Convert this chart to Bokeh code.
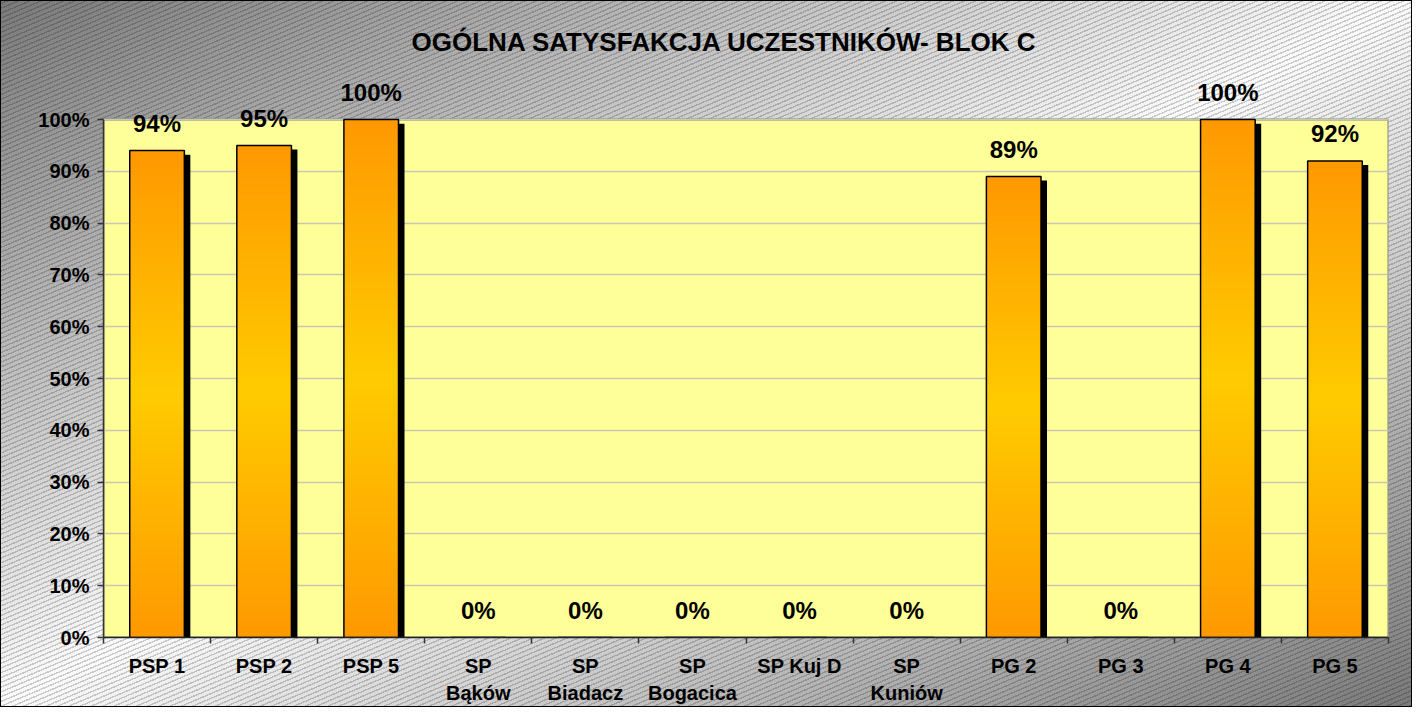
import numpy as np
from bokeh.plotting import figure
from bokeh.models import ColumnDataSource, FixedTicker, Label, LabelSet, Range1d
from bokeh.core.properties import value
from bokeh.transform import dodge
from bokeh.embed import file_html
from bokeh.resources import INLINE

# ---------------- data ----------------
categories = ["PSP 1", "PSP 2", "PSP 5", "SP Bąków", "SP Biadacz", "SP Bogacica",
              "SP Kuj D", "SP Kuniów", "PG 2", "PG 3", "PG 4", "PG 5"]
axis_labels = ["PSP 1", "PSP 2", "PSP 5", "SP\nBąków", "SP\nBiadacz", "SP\nBogacica",
               "SP Kuj D", "SP\nKuniów", "PG 2", "PG 3", "PG 4", "PG 5"]
satisfaction = [94, 95, 100, 0, 0, 0, 0, 0, 89, 0, 100, 92]   # percent
y_ticks = [0, 10, 20, 30, 40, 50, 60, 70, 80, 90, 100]
y_tick_labels = ["0%", "10%", "20%", "30%", "40%", "50%", "60%", "70%", "80%", "90%", "100%"]
title_text = "OGÓLNA SATYSFAKCJA UCZESTNIKÓW- BLOK C"

# ---------------- styling ----------------
FONT = "Liberation Sans"
W, H = 1412, 707
BORDER_L, BORDER_R, BORDER_T, BORDER_B = 103, 24, 10, 70
AREA_PX = 518            # pixel height of the 0..100 % plot area
BAR_W = 0.51
ORANGE = np.array([255, 153, 0])
YELLOW = np.array([255, 204, 0])

n = len(categories)
centers = np.arange(n) + 0.5
vals = np.array(satisfaction, dtype=float)
frame_px = H - BORDER_T - BORDER_B
y_max = y_ticks[-1] * frame_px / AREA_PX

p = figure(width=W, height=H, output_backend="svg", toolbar_location=None,
           x_range=Range1d(0, n), y_range=Range1d(0, y_max),
           min_border_left=BORDER_L, min_border_right=BORDER_R,
           min_border_top=BORDER_T, min_border_bottom=BORDER_B)
p.border_fill_color = None
p.background_fill_color = None
p.outline_line_color = None

hatch = ("repeating-linear-gradient(157deg, rgba(0,0,0,0) 0px, rgba(0,0,0,0) 3px, "
         "rgba(0,0,0,0.19) 3px, rgba(0,0,0,0.19) 4.4px)")
p.styles = {
    "background": (hatch + ", linear-gradient(to bottom right, #7a7a7a 0%, #fafafa 50%, #7a7a7a 100%)"),
    "outline": "1px solid black",
    "outline-offset": "-1px",
}

# plot area (0..100 %)
p.quad(left=[0], right=[n], bottom=[y_ticks[0]], top=[y_ticks[-1]],
       fill_color="#FFFF99", line_color="#808080", line_width=2, level="image")

# shadows
shadow_top = np.maximum(vals - 0.8, 0)
src = ColumnDataSource(dict(x=centers, v=vals, st=shadow_top,
                            lab=[f"{int(v)}%" for v in satisfaction]))
p.vbar(x=dodge("x", 0.056, range=p.x_range), top="st", bottom=0, width=BAR_W,
       source=src, fill_color="black", line_color=None)

# gradient slices for each bar
N = 60
L, R, B, T, C = [], [], [], [], []
for c, v in zip(centers, vals):
    if v <= 0:
        continue
    edges = np.linspace(v, 0, N + 1)
    step = v / N
    for k in range(N):
        f = (k + 0.5) / N
        t = 1 - abs(2 * f - 1)
        col = (ORANGE * (1 - t) + YELLOW * t).astype(int)
        L.append(c - BAR_W / 2); R.append(c + BAR_W / 2)
        T.append(edges[k]); B.append(max(edges[k + 1] - 0.6 * step, 0))
        C.append("#%02x%02x%02x" % tuple(col))
p.quad(left=L, right=R, bottom=B, top=T, fill_color=C, line_color=None)

# bar outlines
p.vbar(x="x", top="v", bottom=0, width=BAR_W, source=src,
       fill_alpha=0, line_color="black", line_width=1.5)

# value labels
labels = LabelSet(x="x", y="v", text="lab", source=src, y_offset=27,
                  text_align="center", text_baseline="middle",
                  text_font=value(FONT), text_font_style="bold", text_font_size="24px",
                  text_color="black")
p.add_layout(labels)

# axes
p.yaxis.ticker = FixedTicker(ticks=y_ticks)
p.yaxis.bounds = (y_ticks[0], y_ticks[-1])
p.yaxis.major_label_overrides = {t: l for t, l in zip(y_ticks, y_tick_labels)}
p.yaxis.minor_tick_line_color = None
p.yaxis.major_tick_out = 6
p.yaxis.major_tick_in = 0
p.yaxis.major_label_standoff = 8
p.yaxis.axis_line_color = "#333333"
p.yaxis.axis_line_width = 1.5
p.yaxis.major_tick_line_color = "#333333"
p.yaxis.major_tick_line_width = 1.5

p.xaxis.ticker = FixedTicker(ticks=list(centers), minor_ticks=list(range(n + 1)))
p.xaxis.major_label_overrides = {float(c): l for c, l in zip(centers, axis_labels)}
p.xaxis.major_tick_out = 0
p.xaxis.major_tick_in = 0
p.xaxis.minor_tick_out = 6
p.xaxis.minor_tick_in = 0
p.xaxis.minor_tick_line_color = "#333333"
p.xaxis.minor_tick_line_width = 1.5
p.xaxis.axis_line_color = "#222222"
p.xaxis.axis_line_width = 1.5
p.xaxis.major_label_standoff = 11
p.xaxis.major_label_text_line_height = 1.25

for ax in (p.xaxis, p.yaxis):
    ax.major_label_text_font = FONT
    ax.major_label_text_font_style = "bold"
    ax.major_label_text_font_size = "20px"
    ax.major_label_text_color = "black"

p.xgrid.visible = False
p.ygrid.ticker = FixedTicker(ticks=y_ticks)
p.ygrid.grid_line_color = "#C8C8B4"
p.ygrid.grid_line_width = 1.5

title = Label(x=621, y=596, x_units="screen", y_units="screen", text=title_text,
              text_align="center", text_baseline="middle",
              text_font=FONT, text_font_style="bold", text_font_size="26px",
              text_color="black")
p.add_layout(title)

open("out.html", "w").write(file_html(p, INLINE))
